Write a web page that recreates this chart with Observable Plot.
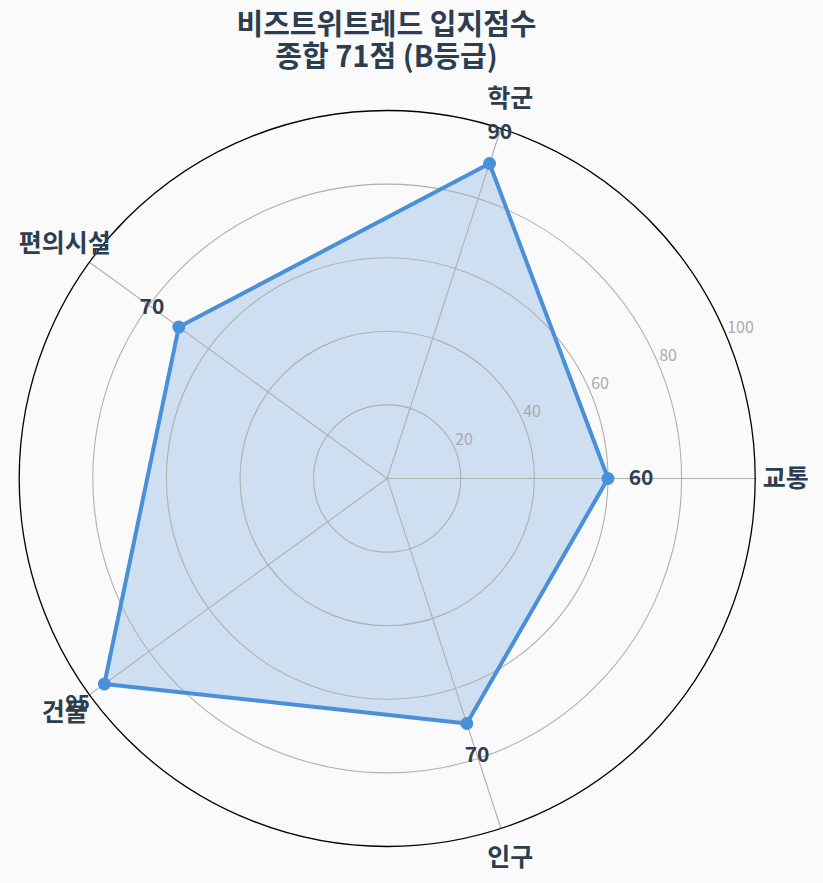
<!DOCTYPE html>
<html>
<head>
<meta charset="utf-8">
<script src="https://cdn.jsdelivr.net/npm/d3@7"></script>
<script src="https://cdn.jsdelivr.net/npm/@observablehq/plot@0.6"></script>
<style>
  html, body { margin: 0; padding: 0; background: #fafafa; }
  #title {
    width: 773px; height: 80px; box-sizing: border-box; padding-top: 6px;
    text-align: center; font-family: "Noto Sans CJK KR", "Noto Sans", sans-serif;
    font-weight: bold; font-size: 29px; line-height: 32px; color: #2c3e50;
  }
  #chart svg { display: block; background: #fafafa; }
</style>
</head>
<body>
<div id="title"><div>비즈트위트레드 입지점수</div><div>종합 71점 (B등급)</div></div>
<div id="chart"></div>
<script>
const categories = ["교통", "학군", "편의시설", "건물", "인구"];
const scores = [60, 90, 70, 95, 70];
const ringTicks = [20, 40, 60, 80, 100];
const maxValue = 100;

const FONT = "Noto Sans CJK KR, Noto Sans, sans-serif";
const N = categories.length;
const rows = categories.map((c, i) => ({category: c, score: scores[i], angle: i * 2 * Math.PI / N}));
const rings = ringTicks.map(t => ({t}));
const labelAngle = 22.5 * Math.PI / 180;

const W = 823, H = 803;
const cx = 386.7, cy = 398, R = 368;

const chart = Plot.plot({
  width: W, height: H,
  margin: 0,
  style: {background: "#fafafa", fontFamily: FONT, overflow: "visible"},
  x: {domain: [-maxValue, maxValue], range: [cx - R, cx + R], axis: null},
  y: {domain: [-maxValue, maxValue], range: [cy + R, cy - R], axis: null},
  r: {type: "linear", domain: [0, maxValue], range: [0, R]},
  marks: [
    Plot.line(rows, {
      x: d => d.score * Math.cos(d.angle), y: d => d.score * Math.sin(d.angle),
      curve: "linear-closed", fill: "#4a90d9", fillOpacity: 0.25, stroke: "none"
    }),
    Plot.dot(rings.filter(d => d.t < maxValue), {x: () => 0, y: () => 0, r: "t", fill: "none", stroke: "#b0b0b0", strokeWidth: 1.1}),
    Plot.link(rows, {
      x1: () => 0, y1: () => 0,
      x2: d => maxValue * Math.cos(d.angle), y2: d => maxValue * Math.sin(d.angle),
      stroke: "#b0b0b0", strokeWidth: 1.1
    }),
    Plot.dot([{t: maxValue}], {x: () => 0, y: () => 0, r: "t", fill: "none", stroke: "#000", strokeWidth: 1.3}),
    Plot.text(rings, {
      x: d => d.t * Math.cos(labelAngle), y: d => d.t * Math.sin(labelAngle),
      text: d => String(d.t), textAnchor: "start", lineAnchor: "middle", dy: -10,
      fill: "#aaaaaa", fontSize: 16, fontFamily: FONT
    }),
    Plot.line(rows, {
      x: d => d.score * Math.cos(d.angle), y: d => d.score * Math.sin(d.angle),
      curve: "linear-closed", stroke: "#4a90d9", strokeWidth: 4, strokeLinejoin: "round"
    }),
    Plot.dot(rows, {
      x: d => d.score * Math.cos(d.angle), y: d => d.score * Math.sin(d.angle),
      r: 6.5, fill: "#4a90d9", stroke: "none"
    }),
    Plot.text(rows, {
      x: d => (d.score + 9) * Math.cos(d.angle), y: d => (d.score + 9) * Math.sin(d.angle),
      text: d => String(d.score), textAnchor: "middle", lineAnchor: "middle",
      fill: "#2c3e50", fontSize: 21, fontWeight: "bold", fontFamily: FONT
    }),
    Plot.text(rows, {
      x: d => 108.3 * Math.cos(d.angle), y: d => 108.3 * Math.sin(d.angle),
      text: "category", textAnchor: "middle", lineAnchor: "middle",
      fill: "#2c3e50", fontSize: 25, fontWeight: "bold", fontFamily: FONT
    })
  ]
});
document.getElementById("chart").appendChild(chart);
</script>
</body>
</html>
